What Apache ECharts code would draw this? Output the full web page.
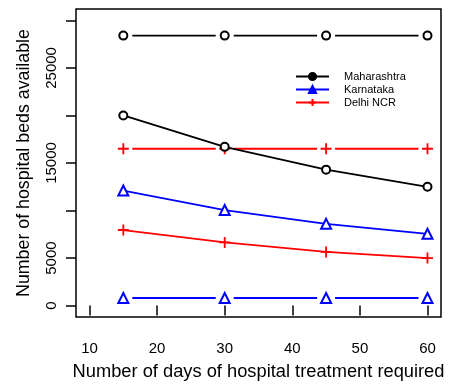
<!DOCTYPE html>
<html>
<head>
<meta charset="utf-8">
<script src="https://cdn.jsdelivr.net/npm/echarts@6/dist/echarts.min.js"></script>
<style>
  html, body { margin: 0; padding: 0; background: #fff; }
  #chart { width: 451px; height: 387px; }
</style>
</head>
<body>
<div id="chart"></div>
<script>
// Days of hospital treatment required
const days = [15, 30, 45, 60];

// Hospital beds: flat line = beds available, falling line = beds needed per day count
const maharashtraAvailable = [28400, 28400, 28400, 28400];
const maharashtraCurve = [20000, 16700, 14300, 12500];
const karnatakaAvailable = [800, 800, 800, 800];
const karnatakaCurve = [12100, 10050, 8600, 7550];
const delhiAvailable = [16500, 16500, 16500, 16500];
const delhiCurve = [7950, 6650, 5650, 5000];

const legendNames = ['Maharashtra', 'Karnataka', 'Delhi NCR'];

// Axis ticks and labels
const xTicks = [10, 20, 30, 40, 50, 60];
const yTicks = [0, 5000, 10000, 15000, 20000, 25000, 30000];
const yLabels = [0, 5000, 15000, 25000];

const BLACK = '#000000', BLUE = '#0000ff', RED = '#ff0000';
const FONT = 'Liberation Sans, Arial, Helvetica, sans-serif';
const PLUS = 'path://M0,5L10,5M5,0L5,10';

function pts(vals) { return days.map((d, i) => [d, vals[i]]); }

function markerStyle(color, symbol) {
  return {
    symbol: symbol,
    symbolSize: symbol === PLUS ? 11 : (symbol === 'emptyTriangle' ? 10 : 8),
    itemStyle: {
      color: color,
      borderColor: color,
      borderWidth: 1.8
    }
  };
}

function curveSeries(id, vals, color, symbol) {
  return Object.assign({
    id: id,
    name: id,
    type: 'line',
    data: pts(vals),
    showSymbol: true,
    lineStyle: { color: color, width: 1.8 },
    z: 3
  }, markerStyle(color, symbol));
}

function flatSeries(id, vals, color, symbol) {
  const s = curveSeries(id, vals, color, symbol);
  s.z = 2;
  return s;
}

// Empty series that only carry the legend entries (filled symbols)
function legendSeries(name, color, symbol) {
  return {
    name: name,
    type: 'line',
    data: [],
    symbol: symbol,
    itemStyle: { color: color, borderColor: color, borderWidth: 1.8 },
    lineStyle: { color: color, width: 2 }
  };
}

const flatIds = ['maharashtraAvail', 'karnatakaAvail', 'delhiAvail'];
const plain = v => String(v);

const option = {
  animation: false,
  backgroundColor: '#ffffff',
  textStyle: { fontFamily: FONT },
  grid: {
    show: true,
    left: 76, top: 9, width: 365, height: 308,
    borderColor: '#000', borderWidth: 1.5,
    backgroundColor: 'transparent'
  },
  legend: {
    data: legendNames,
    orient: 'vertical',
    left: 295, top: 71,
    itemWidth: 33, itemHeight: 9,
    itemGap: 2,
    padding: 0,
    selectedMode: false,
    textStyle: { fontFamily: FONT, fontSize: 11, color: '#000', padding: [0, 0, 0, 10] }
  },
  xAxis: {
    type: 'value',
    min: 8, max: 62,
    name: 'Number of days of hospital treatment required',
    nameLocation: 'middle',
    nameGap: 46,
    nameTextStyle: { fontFamily: FONT, fontSize: 18.3, color: '#000' },
    axisLine: { show: false },
    axisTick: { show: true, length: 10, lineStyle: { color: '#000', width: 1.5 }, customValues: xTicks },
    axisLabel: { fontFamily: FONT, fontSize: 15, color: '#000', margin: 24, formatter: plain, customValues: xTicks },
    splitLine: { show: false }
  },
  yAxis: {
    type: 'value',
    min: -1200, max: 31200,
    name: 'Number of hospital beds available',
    nameLocation: 'middle',
    nameGap: 43,
    nameTextStyle: { fontFamily: FONT, fontSize: 17.8, color: '#000' },
    axisLine: { show: false },
    axisTick: { show: true, length: 10, lineStyle: { color: '#000', width: 1.5 }, customValues: yTicks },
    axisLabel: { fontFamily: FONT, fontSize: 15, color: '#000', margin: 17, rotate: 90, formatter: plain, customValues: yLabels },
    splitLine: { show: false }
  },
  series: [
    flatSeries(flatIds[0], maharashtraAvailable, BLACK, 'emptyCircle'),
    curveSeries('maharashtraCurve', maharashtraCurve, BLACK, 'emptyCircle'),
    flatSeries(flatIds[1], karnatakaAvailable, BLUE, 'emptyTriangle'),
    curveSeries('karnatakaCurve', karnatakaCurve, BLUE, 'emptyTriangle'),
    flatSeries(flatIds[2], delhiAvailable, RED, PLUS),
    curveSeries('delhiCurve', delhiCurve, RED, PLUS),
    legendSeries(legendNames[0], BLACK, 'circle'),
    legendSeries(legendNames[1], BLUE, 'triangle'),
    legendSeries(legendNames[2], RED, PLUS)
  ]
};

const chart = echarts.init(document.getElementById('chart'), null, { renderer: 'canvas' });
chart.setOption(option);

// Flat lines are drawn "both" style: a gap is left around every point.
const step = chart.convertToPixel({ xAxisIndex: 0 }, days[1]) - chart.convertToPixel({ xAxisIndex: 0 }, days[0]);
const gap = 18;
chart.setOption({
  series: flatIds.map(id => ({
    id: id,
    lineStyle: { type: [step - gap, gap], dashOffset: step - gap / 2 }
  }))
});
</script>
</body>
</html>
